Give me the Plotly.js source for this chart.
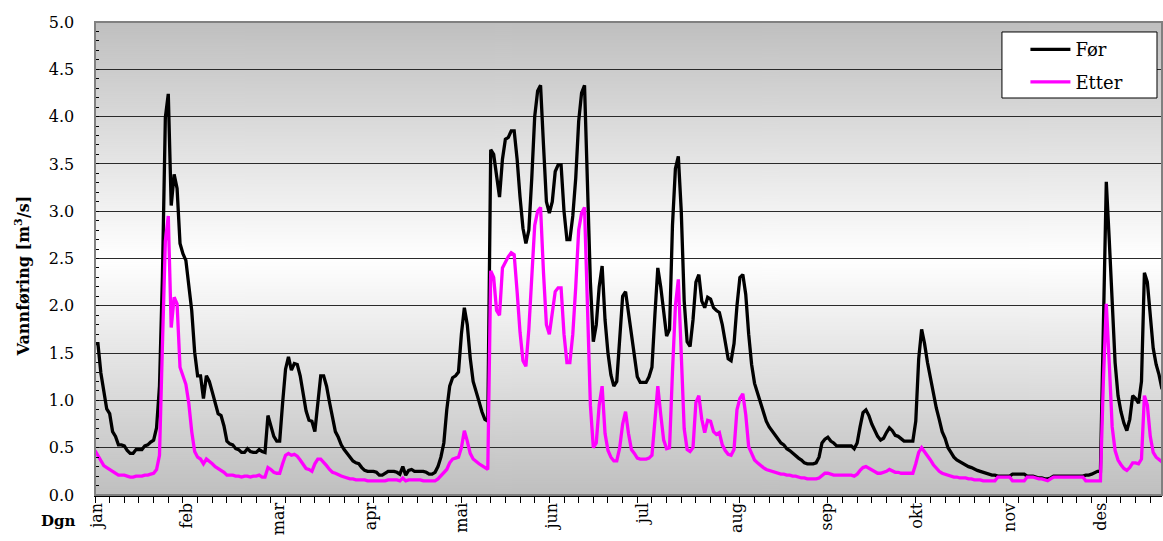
<!DOCTYPE html>
<html>
<head>
<meta charset="utf-8">
<script src="https://cdn.plot.ly/plotly-3.0.1.min.js"></script>
<style>html,body{margin:0;padding:0;background:#fff;}#chart{width:1163px;height:541px;}</style>
</head>
<body>
<div id="chart"></div>
<script>
// Month tick labels and their positions (day number)
const months = ["jan","feb","mar","apr","mai","jun","jul","aug","sep","okt","nov","des"];
const monthPos = [1.6, 32.4, 63.6, 95, 126, 157, 188, 220, 250.7, 281.5, 313, 344];

// Daily discharge, "Før" (black)
const foer = [
1.60,1.60,1.29,1.11,0.91,0.86,0.67,0.62,0.53,0.53,
0.52,0.47,0.44,0.44,0.48,0.48,0.48,0.52,0.53,0.56,
0.58,0.71,1.15,2.31,3.99,4.24,3.06,3.39,3.24,2.66,
2.55,2.48,2.24,1.95,1.51,1.26,1.26,1.02,1.26,1.20,
1.09,0.98,0.86,0.84,0.73,0.57,0.54,0.53,0.49,0.48,
0.45,0.45,0.49,0.46,0.45,0.45,0.48,0.46,0.45,0.84,
0.73,0.62,0.57,0.57,0.97,1.33,1.46,1.32,1.39,1.38,
1.26,1.07,0.89,0.79,0.78,0.67,1.00,1.26,1.26,1.15,
0.98,0.83,0.67,0.61,0.53,0.48,0.44,0.40,0.36,0.34,
0.33,0.29,0.26,0.25,0.25,0.25,0.24,0.21,0.21,0.23,
0.25,0.25,0.25,0.24,0.22,0.30,0.21,0.26,0.27,0.25,
0.25,0.25,0.25,0.24,0.22,0.22,0.24,0.30,0.40,0.55,
0.90,1.15,1.24,1.26,1.30,1.70,1.98,1.80,1.45,1.20,
1.08,0.99,0.88,0.80,0.78,3.65,3.60,3.40,3.15,3.55,
3.76,3.78,3.85,3.85,3.55,3.15,2.82,2.66,2.80,3.35,
4.00,4.27,4.33,3.70,3.10,2.98,3.10,3.42,3.49,3.49,
3.00,2.70,2.70,2.95,3.35,3.95,4.25,4.33,3.20,2.25,
1.62,1.80,2.20,2.42,1.85,1.50,1.27,1.15,1.20,1.70,
2.10,2.15,1.92,1.65,1.42,1.25,1.19,1.19,1.19,1.25,
1.35,1.90,2.40,2.20,1.92,1.68,1.75,2.85,3.45,3.58,
3.00,2.05,1.62,1.57,1.85,2.25,2.33,2.05,1.98,2.09,
2.07,1.98,1.95,1.93,1.80,1.62,1.44,1.42,1.60,2.00,
2.30,2.33,2.12,1.70,1.38,1.18,1.08,0.98,0.88,0.78,
0.72,0.68,0.63,0.59,0.55,0.53,0.49,0.47,0.44,0.41,
0.39,0.37,0.34,0.33,0.33,0.33,0.34,0.40,0.55,0.59,
0.61,0.57,0.55,0.52,0.52,0.52,0.52,0.52,0.52,0.49,
0.55,0.72,0.87,0.90,0.84,0.75,0.68,0.62,0.58,0.60,
0.66,0.71,0.68,0.63,0.62,0.59,0.57,0.57,0.57,0.57,
0.78,1.44,1.75,1.60,1.40,1.24,1.07,0.92,0.80,0.67,
0.60,0.50,0.45,0.40,0.37,0.35,0.34,0.32,0.30,0.29,
0.27,0.26,0.25,0.24,0.23,0.22,0.21,0.21,0.20,0.20,
0.20,0.20,0.20,0.22,0.22,0.22,0.22,0.22,0.20,0.20,
0.20,0.19,0.18,0.18,0.17,0.17,0.18,0.20,0.20,0.20,
0.20,0.20,0.20,0.20,0.20,0.20,0.20,0.20,0.21,0.21,
0.22,0.24,0.25,0.25,1.90,3.31,2.70,1.98,1.40,1.05,
0.88,0.76,0.68,0.80,1.05,1.02,0.97,1.20,2.35,2.25,
1.90,1.55,1.38,1.27,1.12
];

// Daily discharge, "Etter" (magenta)
const etter = [
0.47,0.42,0.36,0.31,0.29,0.27,0.24,0.23,0.21,0.21,
0.21,0.20,0.19,0.19,0.20,0.20,0.20,0.21,0.21,0.22,
0.23,0.27,0.42,1.58,2.68,2.95,1.77,2.09,2.02,1.35,
1.26,1.17,0.97,0.67,0.46,0.40,0.38,0.33,0.38,0.36,
0.33,0.30,0.28,0.27,0.24,0.21,0.21,0.21,0.20,0.20,
0.19,0.20,0.20,0.19,0.20,0.20,0.21,0.19,0.19,0.29,
0.27,0.24,0.23,0.23,0.33,0.42,0.44,0.42,0.43,0.41,
0.37,0.33,0.28,0.27,0.25,0.33,0.38,0.38,0.35,0.31,
0.27,0.24,0.23,0.21,0.20,0.19,0.18,0.17,0.17,0.16,
0.16,0.16,0.16,0.15,0.15,0.15,0.15,0.15,0.15,0.15,
0.16,0.16,0.16,0.16,0.15,0.18,0.15,0.16,0.16,0.16,
0.16,0.16,0.15,0.15,0.15,0.15,0.15,0.17,0.20,0.23,
0.27,0.34,0.38,0.39,0.40,0.50,0.68,0.57,0.44,0.38,
0.35,0.33,0.31,0.29,0.27,2.37,2.30,1.95,1.90,2.40,
2.47,2.52,2.56,2.54,2.15,1.72,1.42,1.36,1.75,2.35,
2.85,3.00,3.04,2.35,1.80,1.70,1.90,2.15,2.19,2.19,
1.70,1.40,1.40,1.70,2.20,2.80,2.98,3.04,2.00,0.95,
0.50,0.55,0.95,1.15,0.65,0.47,0.40,0.36,0.36,0.50,
0.75,0.88,0.65,0.48,0.44,0.39,0.38,0.38,0.38,0.39,
0.42,0.78,1.15,0.85,0.58,0.49,0.50,1.30,2.00,2.28,
1.58,0.70,0.48,0.46,0.50,0.98,1.05,0.80,0.66,0.79,
0.78,0.67,0.64,0.66,0.53,0.47,0.43,0.42,0.48,0.90,
1.02,1.07,0.85,0.51,0.44,0.37,0.34,0.31,0.29,0.27,
0.26,0.25,0.24,0.23,0.22,0.22,0.21,0.21,0.20,0.20,
0.19,0.18,0.18,0.17,0.17,0.17,0.17,0.18,0.21,0.23,
0.23,0.22,0.21,0.21,0.21,0.21,0.21,0.21,0.21,0.20,
0.22,0.26,0.29,0.30,0.28,0.26,0.24,0.23,0.23,0.24,
0.25,0.27,0.25,0.24,0.24,0.23,0.23,0.23,0.23,0.23,
0.33,0.45,0.50,0.46,0.41,0.37,0.32,0.28,0.25,0.23,
0.22,0.21,0.20,0.19,0.19,0.18,0.18,0.18,0.17,0.17,
0.16,0.16,0.16,0.15,0.15,0.15,0.15,0.15,0.19,0.19,
0.19,0.19,0.19,0.15,0.15,0.15,0.15,0.15,0.19,0.19,
0.19,0.18,0.17,0.17,0.16,0.15,0.17,0.19,0.19,0.19,
0.19,0.19,0.19,0.19,0.19,0.19,0.19,0.19,0.15,0.15,
0.15,0.15,0.15,0.15,1.20,2.02,1.40,0.72,0.47,0.37,
0.32,0.28,0.26,0.29,0.34,0.34,0.33,0.38,1.05,0.95,
0.62,0.45,0.40,0.38,0.35
];

const days = foer.map((_, k) => k + 1);

// vertical gray-white-gray gradient for the plot background
const cv = document.createElement('canvas');
cv.width = 4; cv.height = 473;
const ctx = cv.getContext('2d');
const g = ctx.createLinearGradient(0, 0, 0, 473);
g.addColorStop(0, '#bfbfbf');
g.addColorStop(0.5, '#ffffff');
g.addColorStop(1, '#bfbfbf');
ctx.fillStyle = g; ctx.fillRect(0, 0, 4, 473);
const bgURL = cv.toDataURL('image/png');

const serif = 'DejaVu Serif, Liberation Serif, serif';

const traces = [
  {x: days, y: foer, type: 'scatter', mode: 'lines', name: 'Før', legendgroup: 'a',
   line: {color: '#000000', width: 3.3}},
  {x: days, y: etter, type: 'scatter', mode: 'lines', name: 'Etter', legendgroup: 'b',
   line: {color: '#FF00FF', width: 3.3}}
];

const layout = {
  width: 1163, height: 541,
  margin: {l: 95, r: 1, t: 22, b: 46, pad: 0},
  paper_bgcolor: '#ffffff',
  plot_bgcolor: 'rgba(0,0,0,0)',
  showlegend: true,
  font: {family: serif, color: '#000'},
  images: [{source: bgURL, xref: 'paper', yref: 'paper', x: 0, y: 1, sizex: 1, sizey: 1,
            sizing: 'stretch', layer: 'below', xanchor: 'left', yanchor: 'top'}],
  xaxis: {
    range: [1, 365], tickmode: 'array', tickvals: monthPos, ticktext: months,
    tickangle: -90, ticks: '', showgrid: false, zeroline: false,
    showline: true, linecolor: '#000', linewidth: 1.5,
    tickfont: {family: serif, size: 16, color: '#000'},
    minor: {tickmode: 'linear', tick0: 1, dtick: 5, ticks: 'outside', ticklen: 6,
            tickcolor: '#000', tickwidth: 1, showgrid: false}
  },
  // main y axis: labels pushed away from the axis by an invisible long tick
  yaxis: {
    range: [0, 5], tickmode: 'linear', tick0: 0, dtick: 0.5, tickformat: '.1f',
    ticks: 'outside', ticklen: 16, tickcolor: 'rgba(0,0,0,0)',
    showgrid: true, gridcolor: '#2a2a2a', gridwidth: 1, zeroline: false,
    showline: true, linecolor: '#000', linewidth: 1.5,
    tickfont: {family: serif, size: 16, color: '#000'},
    minor: {dtick: 0.1, ticks: 'inside', ticklen: 4, tickcolor: '#000', showgrid: false}
  },
  // overlay axis that only draws the visible major tick marks
  yaxis2: {
    overlaying: 'y', side: 'left', anchor: 'x', range: [0, 5], tickmode: 'linear', tick0: 0, dtick: 0.5,
    ticks: 'outside', ticklen: 7, tickcolor: '#000', showticklabels: false,
    showgrid: false, zeroline: false, showline: false
  },
  legend: {
    x: 0.872, y: 0.9805, xanchor: 'left', yanchor: 'top',
    bgcolor: 'rgba(0,0,0,0)', borderwidth: 0,
    font: {family: serif, size: 18, color: '#000'},
    tracegroupgap: 6, traceorder: 'grouped', itemwidth: 40
  },
  shapes: [
    {type: 'rect', xref: 'paper', yref: 'paper', x0: 0, x1: 1, y0: 0, y1: 1,
     line: {color: '#808080', width: 2}, fillcolor: 'rgba(0,0,0,0)', layer: 'above'},
    {type: 'rect', xref: 'paper', yref: 'paper', x0: 0.850, x1: 0.9953, y0: 0.8393, y1: 0.9789,
     line: {color: '#000', width: 1}, fillcolor: '#ffffff', layer: 'above'}
  ],
  annotations: [
    {text: '<b>Vannføring [m<sup>3</sup>/s]</b>', xref: 'paper', yref: 'paper',
     x: -0.068, y: 0.463, xanchor: 'center', yanchor: 'middle', textangle: -90, showarrow: false,
     font: {family: serif, size: 16, color: '#000'}},
    {text: '<b>Dgn</b>', xref: 'paper', yref: 'paper', x: -0.035, y: -0.055,
     xanchor: 'center', yanchor: 'middle', showarrow: false,
     font: {family: serif, size: 15, color: '#000'}}
  ]
};

Plotly.newPlot('chart', traces, layout, {displayModeBar: false, staticPlot: true});
</script>
</body>
</html>
